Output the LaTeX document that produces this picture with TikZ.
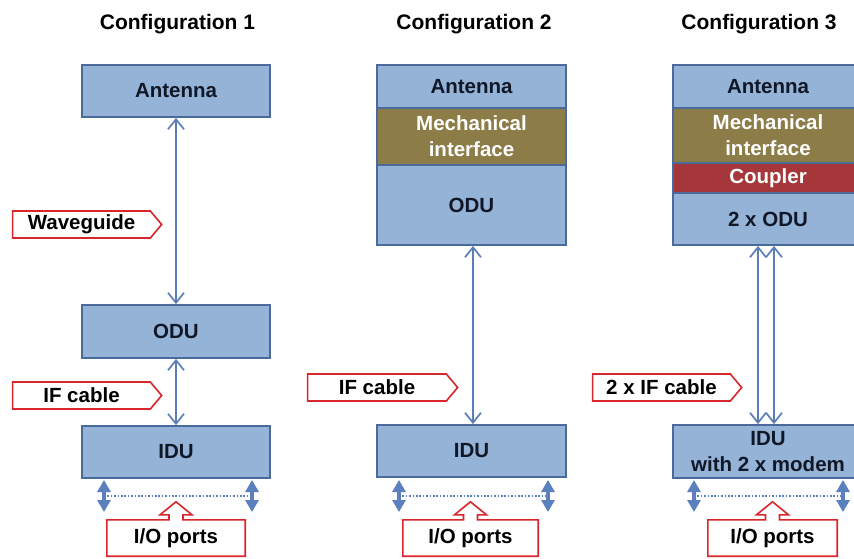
\documentclass[tikz,border=0pt]{standalone}
\usepackage{fontspec}
\setmainfont{Liberation Sans}
\usetikzlibrary{arrows.meta,shapes.symbols,calc}
\definecolor{boxfill}{HTML}{95B3D7}
\definecolor{boxline}{HTML}{4A6A9C}
\definecolor{mechfill}{HTML}{8C7C48}
\definecolor{couplerfill}{HTML}{A5373A}
\definecolor{conncol}{HTML}{5B7DB8}
\definecolor{labred}{HTML}{D8262C}
\definecolor{darktext}{HTML}{101828}
\definecolor{portcol}{HTML}{5A80BE}
\tikzset{
  txt/.style={font=\fontsize{20.5}{26}\selectfont\bfseries},
  unitbox/.style={txt, draw=boxline, line width=1.8pt, fill=boxfill, text=darktext,
    inner sep=0pt, align=center},
  mechbox/.style={unitbox, fill=mechfill, text=white},
  coupbox/.style={unitbox, fill=couplerfill, text=white},
  title/.style={font=\fontsize{21}{25}\selectfont\bfseries, text=black},
  conn/.style={draw=conncol, line width=1.7pt,
    {Straight Barb[length=10pt,width=16pt,line width=1.7pt]}-{Straight Barb[length=10pt,width=16pt,line width=1.7pt]}},
  siglab/.style={txt, shape=signal, signal to=east, signal pointer angle=100,
    draw=labred, line width=1.6pt, fill=white, text=black, inner sep=0pt,
    minimum height=27pt},
  iolab/.style={txt, text=black, inner sep=0pt, minimum height=36pt},
  ioline/.style={draw=labred, line width=1.6pt, fill=white, line join=miter},
  portarrow/.style={draw=portcol, line width=4pt,
    {Triangle[length=12pt,width=13pt]}-{Triangle[length=12pt,width=13pt]}},
  portline/.style={draw=portcol, line width=1.6pt, dash pattern=on 1.6pt off 1.8pt},
}
\newcommand{\ioshape}[1]{%
  \draw[ioline] (#1.south west) -- (#1.north west) -- ($(#1.north)+(-7,0)$) -- ++(0,-5)
    -- ++(-9,0) -- ($(#1.north)+(0,-18)$) -- ($(#1.north)+(16,-5)$) -- ++(-9,0)
    -- ($(#1.north)+(7,0)$) -- (#1.north east) -- (#1.south east) -- cycle;
  \node[iolab] at (#1.center) {I/O ports};}
\begin{document}
\begin{tikzpicture}[x=1pt,y=-1pt]
\useasboundingbox[fill=white] (0,0) rectangle (854,559);

% titles
\node[title] (t1) at (177.5,24) {Configuration 1};
\node[title] (t2) at (474,24) {Configuration 2};
\node[title] (t3) at (759,24) {Configuration 3};

% ---------- Configuration 1
\node[unitbox, minimum width=188pt, minimum height=52pt] (ant1) at (176,91) {Antenna};
\node[unitbox, minimum width=188pt, minimum height=53pt] (odu1) at (176,331.5) {ODU};
\node[unitbox, minimum width=188pt, minimum height=52pt] (idu1) at (176,452) {IDU};
\draw[conn] (ant1.south) -- (odu1.north);
\draw[conn] (odu1.south) -- (idu1.north);
\node[siglab, minimum width=149pt] (wg) at (81.5,224.5) {Waveguide};
\node[siglab, minimum width=149pt] (if1) at (81.5,395.5) {IF cable};

\coordinate (pl1) at (104,496);
\coordinate (pr1) at (252,496);
\draw[portline] (pl1) -- (pr1);
\draw[portarrow] ([yshift=16pt]pl1) -- ([yshift=-16pt]pl1);
\draw[portarrow] ([yshift=16pt]pr1) -- ([yshift=-16pt]pr1);
\node[inner sep=0pt, minimum width=138pt, minimum height=36pt] (io1) at (176,538) {};
\ioshape{io1}

% ---------- Configuration 2
\node[unitbox, minimum width=189pt, minimum height=43pt] (ant2) at (471.5,86.5) {Antenna};
\node[mechbox, minimum width=189pt, minimum height=57pt] (mech2) at (471.5,136.5) {Mechanical\\interface};
\node[unitbox, minimum width=189pt, minimum height=80pt] (odu2) at (471.5,205) {ODU};
\node[unitbox, minimum width=189pt, minimum height=52pt] (idu2) at (471.5,451) {IDU};
\draw[conn] ([xshift=1.5pt]odu2.south) -- ([xshift=1.5pt]idu2.north);
\node[siglab, minimum width=150pt] (if2) at (377,387.5) {IF cable};

\coordinate (pl2) at (399,496);
\coordinate (pr2) at (548,496);
\draw[portline] (pl2) -- (pr2);
\draw[portarrow] ([yshift=16pt]pl2) -- ([yshift=-16pt]pl2);
\draw[portarrow] ([yshift=16pt]pr2) -- ([yshift=-16pt]pr2);
\node[inner sep=0pt, minimum width=135pt, minimum height=36pt] (io2) at (470.5,538) {};
\ioshape{io2}

% ---------- Configuration 3
\node[unitbox, minimum width=190pt, minimum height=43pt] (ant3) at (768,86.5) {Antenna};
\node[mechbox, minimum width=190pt, minimum height=55pt] (mech3) at (768,135.5) {Mechanical\\interface};
\node[coupbox, minimum width=190pt, minimum height=30pt] (coup3) at (768,178) {Coupler};
\node[unitbox, minimum width=190pt, minimum height=52pt] (odu3) at (768,219) {2 x ODU};
\node[unitbox, minimum width=190pt, minimum height=53pt] (idu3) at (768,451.5) {IDU\\with 2 x modem};
\draw[conn] ([xshift=-10pt]odu3.south) -- ([xshift=-10pt]idu3.north);
\draw[conn] ([xshift=6pt]odu3.south) -- ([xshift=6pt]idu3.north);
\node[siglab, minimum width=149pt] (if3) at (661.5,387.5) {2 x IF cable};

\coordinate (pl3) at (694,496);
\coordinate (pr3) at (843,496);
\draw[portline] (pl3) -- (pr3);
\draw[portarrow] ([yshift=16pt]pl3) -- ([yshift=-16pt]pl3);
\draw[portarrow] ([yshift=16pt]pr3) -- ([yshift=-16pt]pr3);
\node[inner sep=0pt, minimum width=129pt, minimum height=36pt] (io3) at (772.5,538) {};
\ioshape{io3}
\end{tikzpicture}
\end{document}
